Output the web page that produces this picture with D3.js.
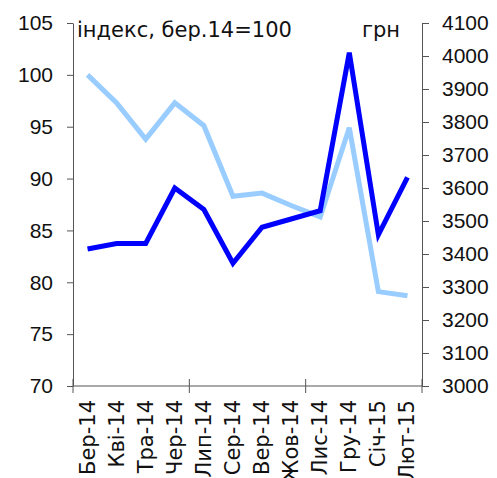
<!DOCTYPE html>
<html>
<head>
<meta charset="utf-8">
<script src="https://cdn.jsdelivr.net/npm/d3@7"></script>
<style>
  body { margin: 0; background: #fff; }
  svg { font-family: "DejaVu Sans", Verdana, sans-serif; }
</style>
</head>
<body>
<svg id="svg" width="497" height="478"></svg>
<script>
// data
const months = ['Бер-14', 'Кві-14', 'Тра-14', 'Чер-14', 'Лип-14', 'Сер-14',
                'Вер-14', 'Жов-14', 'Лис-14', 'Гру-14', 'Січ-15', 'Лют-15']
const index = [100, 97.3, 93.8, 97.3, 95.1, 88.3, 88.6, 87.4, 86.3, 94.9, 79.1, 78.7]
const uah = [3415, 3432, 3432, 3600, 3535, 3372, 3481, 3506, 3531, 4010, 3458, 3632]
const leftTicks = [70, 75, 80, 85, 90, 95, 100, 105]
const rightTicks = [3000, 3100, 3200, 3300, 3400, 3500, 3600, 3700, 3800, 3900, 4000, 4100]

var margin = {top: 23, right: 75, bottom: 92, left: 73}
var width = 497
var height = 478
var fontSize = 21
var axisColor = '#555'

var svg = d3.select('#svg')

var x = d3.scaleBand()
  .domain(months)
  .range([margin.left, width - margin.right])

var yL = d3.scaleLinear()
  .domain([70, 105])
  .range([height - margin.bottom, margin.top])

var yR = d3.scaleLinear()
  .domain([3000, 4100])
  .range([height - margin.bottom, margin.top])

var cx = d => x(d) + x.bandwidth() / 2

// left axis
var gL = svg.append('g')
  .attr('transform', `translate(${margin.left},0)`)
  .call(d3.axisLeft(yL).tickValues(leftTicks).tickSize(6).tickPadding(14).tickSizeOuter(0))
gL.selectAll('text').attr('font-size', fontSize).attr('font-family', null).attr('fill', '#111')

// right axis
var gR = svg.append('g')
  .attr('transform', `translate(${width - margin.right},0)`)
  .call(d3.axisRight(yR).tickValues(rightTicks).tickFormat(d3.format('d'))
    .tickSize(7).tickPadding(13).tickSizeOuter(0))
gR.selectAll('text').attr('font-size', fontSize).attr('font-family', null).attr('fill', '#111')

svg.selectAll('.domain, .tick line').attr('stroke', axisColor)

// bottom axis: ticks every 4 months crossing the line, labels rotated
var y0 = height - margin.bottom
var gX = svg.append('g')
gX.append('line')
  .attr('x1', margin.left).attr('x2', width - margin.right)
  .attr('y1', y0).attr('y2', y0)
  .attr('stroke', axisColor)
gX.selectAll('line.tk')
  .data(d3.range(0, months.length + 1, 4))
  .join('line')
    .attr('class', 'tk')
    .attr('x1', i => margin.left + i * x.step())
    .attr('x2', i => margin.left + i * x.step())
    .attr('y1', y0 - 7).attr('y2', y0 + 7)
    .attr('stroke', axisColor)
gX.selectAll('text')
  .data(months)
  .join('text')
    .attr('transform', d => `translate(${cx(d) + 7},${y0 + 14}) rotate(-90)`)
    .attr('text-anchor', 'end')
    .attr('font-size', fontSize)
    .attr('fill', '#111')
    .text(d => d)

// lines
var lineL = d3.line().x((d, i) => cx(months[i])).y(d => yL(d))
var lineR = d3.line().x((d, i) => cx(months[i])).y(d => yR(d))

svg.append('path')
  .attr('d', lineL(index))
  .attr('fill', 'none')
  .attr('stroke', '#99ccff')
  .attr('stroke-width', 5)
  .attr('stroke-linejoin', 'miter')

svg.append('path')
  .attr('d', lineR(uah))
  .attr('fill', 'none')
  .attr('stroke', '#0000ff')
  .attr('stroke-width', 5)
  .attr('stroke-linejoin', 'miter')

// unit labels
svg.append('text')
  .attr('x', 77).attr('y', 37)
  .attr('font-size', fontSize)
  .attr('fill', '#111')
  .text('індекс, бер.14=100')

svg.append('text')
  .attr('x', 400).attr('y', 37)
  .attr('text-anchor', 'end')
  .attr('font-size', fontSize)
  .attr('fill', '#111')
  .text('грн')
</script>
</body>
</html>
